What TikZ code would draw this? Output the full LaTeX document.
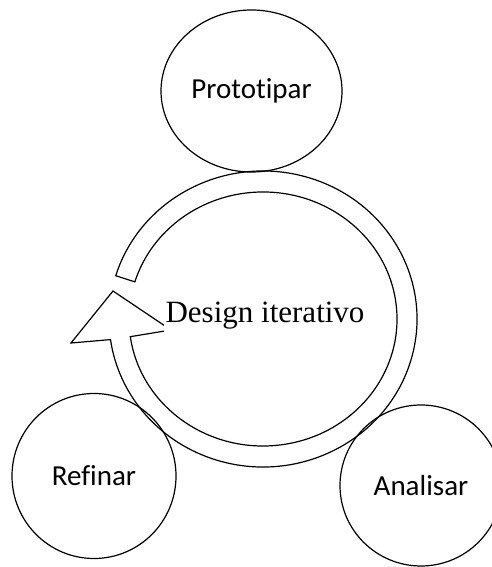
\documentclass[tikz,border=0pt]{standalone}
\usepackage{fontspec}
\setmainfont{Liberation Serif}
\newfontfamily\calibri[Ligatures={NoCommon}]{Carlito}
\usetikzlibrary{shapes.geometric,calc}

\begin{document}
\begin{tikzpicture}[x=1pt,y=1pt,line width=1.2pt,
        phase/.style={draw,ellipse,inner sep=0pt,font=\calibri\fontsize{29}{34}\selectfont},
        cyclearrow/.style={draw,line join=miter}]
        \useasboundingbox (0,0) rectangle (492,567);
        \node[phase,minimum width=181pt,minimum height=162pt] (proto) at (251.5,476) {Prototipar};
        \node[phase,minimum width=164pt,minimum height=165pt] (refin) at (94,91) {Refinar};
        \node[phase,minimum width=162pt,minimum height=161pt] (anal) at (421,81.5) {Analisar};
        \coordinate (c) at (263,248);
        \coordinate (head_l) at (71,224);
        \coordinate (head_t) at (113,276);
        \coordinate (head_r) at (171,237);
        \draw[cyclearrow] ($(c)+(163:154 and 148)$)
            arc[start angle=163,end angle=-172,x radius=154,y radius=148]
            -- (head_l) -- (head_t) -- (head_r)
            -- ($(c)+(-172:134 and 127)$)
            arc[start angle=-172,end angle=163,x radius=134,y radius=127] -- cycle;
        \node[fill=white,inner sep=2pt,anchor=base west,font=\fontsize{31}{36}\selectfont] (design) at (163,244) {Design iterativo};
    \end{tikzpicture}
\end{document}
